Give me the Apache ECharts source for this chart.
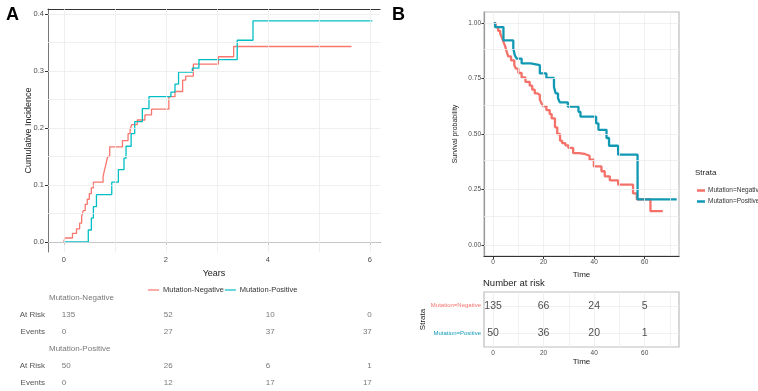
<!DOCTYPE html>
<html>
<head>
<meta charset="utf-8">
<script src="https://cdn.jsdelivr.net/npm/echarts@6/dist/echarts.min.js"></script>
<style>
html, body { margin: 0; padding: 0; background: #fff; }
#chart { width: 758px; height: 391px; }
</style>
</head>
<body>
<div id="chart"></div>
<script>
// ---- panel A: cumulative incidence, [years, value]
var aNegCurve = [[0, 0], [0.02, 0.007], [0.17, 0.015], [0.25, 0.023], [0.31, 0.033], [0.35, 0.045],
    [0.38, 0.055], [0.42, 0.066], [0.46, 0.075], [0.50, 0.085], [0.54, 0.095], [0.58, 0.105],
    [0.77, 0.115], [0.80, 0.127], [0.83, 0.138], [0.86, 0.150], [0.90, 0.167], [1.15, 0.178],
    [1.26, 0.190], [1.30, 0.197], [1.33, 0.206], [1.44, 0.214], [1.59, 0.223], [1.72, 0.233],
    [2.06, 0.255], [2.18, 0.264], [2.33, 0.284], [2.39, 0.291], [2.54, 0.312], [3.03, 0.325],
    [3.33, 0.343], [5.64, 0.343]]
var aPosCurve = [[0, 0], [0.48, 0.021], [0.54, 0.042], [0.58, 0.062], [0.64, 0.083], [0.94, 0.105],
    [1.07, 0.127], [1.18, 0.147], [1.22, 0.168], [1.32, 0.190], [1.39, 0.211], [1.54, 0.234],
    [1.67, 0.255], [2.10, 0.263], [2.18, 0.277], [2.25, 0.298], [2.52, 0.305], [2.65, 0.320],
    [3.40, 0.354], [3.71, 0.388], [6.05, 0.388]]
var aTimes = [0, 2, 4, 6]
var aYTicks = [0, 0.1, 0.2, 0.3, 0.4]
var aNegRisk = [135, 52, 10, 0]
var aNegEvents = [0, 27, 37, 37]
var aPosRisk = [50, 26, 6, 1]
var aPosEvents = [0, 12, 17, 17]
var aRowKeys = ['negHead', 'negRisk', 'negEvents', 'posHead', 'posRisk', 'posEvents']
var aRowLabels = ['', 'At Risk', 'Events', '', 'At Risk', 'Events']
var aNames = ['Mutation-Negative', 'Mutation-Positive']

// ---- panel B: survival probability, [time, value]
var bNegCurve = [[0, 1], [1.0, 0.982], [2.0, 0.965], [2.8, 0.953], [3.5, 0.935], [4.1, 0.915],
    [4.8, 0.895], [5.4, 0.870], [6.0, 0.850], [7.1, 0.832], [8.4, 0.810], [9.0, 0.795],
    [10.0, 0.775], [11.3, 0.755], [12.8, 0.735], [14.5, 0.718], [15.5, 0.700], [16.5, 0.683],
    [17.6, 0.676], [18.5, 0.655], [19.2, 0.638], [19.8, 0.625], [21.1, 0.608], [22.4, 0.590],
    [23.2, 0.570], [24.5, 0.530], [25.4, 0.500], [26.5, 0.470], [27.3, 0.459], [28.6, 0.449],
    [29.8, 0.437], [31.7, 0.414], [34.0, 0.410], [36.3, 0.402], [38.2, 0.384], [39.9, 0.354],
    [42.9, 0.332], [44.2, 0.309], [46.2, 0.291], [49.5, 0.272], [55.4, 0.232], [56.9, 0.205],
    [62.3, 0.152], [67.2, 0.152]]
var bPosCurve = [[0, 1], [0.8, 0.982], [4.1, 0.922], [8.0, 0.885], [8.6, 0.855], [9.3, 0.840],
    [11.3, 0.818], [14.9, 0.810], [18.5, 0.773], [21.1, 0.753], [24.1, 0.712], [24.8, 0.683],
    [25.7, 0.661], [26.4, 0.643], [29.6, 0.623], [33.8, 0.600], [34.6, 0.578], [40.8, 0.548],
    [41.7, 0.519], [44.9, 0.482], [45.9, 0.447], [49.5, 0.407], [57.2, 0.205], [72.7, 0.205]]
var bTimes = [0, 20, 40, 60]
var bYTicks = [0, 0.25, 0.5, 0.75, 1]
var bNegRisk = [135, 66, 24, 5]
var bPosRisk = [50, 36, 20, 1]
var bNames = ['Mutation=Negative', 'Mutation=Positive']

var red = '#F8766D'
var teal = '#00BFC4'
var bRed = '#F4716A'
var bTeal = '#1199B4'
var font = 'Liberation Sans, Arial, sans-serif'

// 背景网格线
function gridLines (xs, ys, color) {
    var d = []
    xs.forEach(function (v) { d.push({ xAxis: v }) })
    ys.forEach(function (v) { d.push({ yAxis: v }) })
    return {
        silent: true,
        symbol: ['none', 'none'],
        label: { show: false },
        lineStyle: { color: color, type: 'solid', width: 0.8 },
        emphasis: { disabled: true },
        data: d
    }
}

// 风险表 (A)
var aTableData = []
var aRows = { negRisk: aNegRisk, negEvents: aNegEvents, posRisk: aPosRisk, posEvents: aPosEvents }
Object.keys(aRows).forEach(function (key) {
    aRows[key].forEach(function (v, i) {
        var last = i === aTimes.length - 1
        aTableData.push({
            value: [aTimes[i], key, String(v)],
            label: { position: last ? 'left' : 'right', distance: -2 }
        })
    })
})
aTableData.push({ value: [-0.31, 'negHead', aNames[0]], label: { position: 'right', distance: 1 } })
aTableData.push({ value: [-0.31, 'posHead', aNames[1]], label: { position: 'right', distance: 1 } })

var bTableData = []
bNegRisk.forEach(function (v, i) { bTableData.push([bTimes[i], bNames[0], v]) })
bPosRisk.forEach(function (v, i) { bTableData.push([bTimes[i], bNames[1], v]) })

var axisLabelA = { fontSize: 7.5, color: '#4d4d4d', fontFamily: font }
var axisLabelB = { fontSize: 6.5, color: '#4d4d4d', fontFamily: font }
var bigTitle = { fontSize: 18, fontWeight: 'bold', color: '#000', fontFamily: font }

var myChart = echarts.init(document.getElementById('chart'))
myChart.setOption({
    animation: false,
    textStyle: { fontFamily: font },
    title: [
        { text: 'A', left: 1, top: 1, textStyle: bigTitle },
        { text: 'B', left: 387, top: 1, textStyle: bigTitle },
        { text: 'Number at risk', left: 478, top: 273, textStyle: { fontSize: 9.5, fontWeight: 'normal', color: '#222', fontFamily: font } },
        { text: 'Strata', left: 690, top: 164, textStyle: { fontSize: 8, fontWeight: 'normal', color: '#222', fontFamily: font } }
    ],
    legend: [
        {
            data: aNames,
            left: 143,
            top: 281,
            icon: 'rect',
            itemWidth: 11,
            itemHeight: 1.2,
            itemGap: 1,
            textStyle: { fontSize: 7.5, color: '#333', padding: [0, 0, 0, -1] }
        },
        {
            data: bNames,
            orient: 'vertical',
            left: 692,
            top: 182,
            icon: 'rect',
            itemWidth: 8,
            itemHeight: 2.5,
            itemGap: 4,
            textStyle: { fontSize: 6.5, color: '#333', padding: [0, 0, 0, -2] }
        }
    ],
    grid: [
        { left: 48, top: 9, width: 332, height: 243 },
        { left: 48, top: 289, width: 332, height: 105.6 },
        { left: 484, top: 12, width: 195, height: 244, show: true, borderColor: '#bdbdbd', borderWidth: 1.2 },
        { left: 484, top: 292, width: 195, height: 55, show: true, borderColor: '#bdbdbd', borderWidth: 1.2 }
    ],
    xAxis: [
        {
            gridIndex: 0, type: 'value', min: -0.31, max: 6.2,
            axisLine: { lineStyle: { color: '#333', width: 1.2 } },
            axisTick: { customValues: aTimes, length: 3, lineStyle: { color: '#333' } },
            axisLabel: Object.assign({ customValues: aTimes, margin: 4 }, axisLabelA),
            splitLine: { show: false },
            name: 'Years', nameLocation: 'middle', nameGap: 12,
            nameTextStyle: { fontSize: 9, color: '#222' }
        },
        {
            gridIndex: 0, type: 'value', min: -0.31, max: 6.2, position: 'top',
            axisLine: { show: true, onZero: false, lineStyle: { color: '#333', width: 1.2 } },
            axisTick: { show: false }, axisLabel: { show: false }, splitLine: { show: false }
        },
        { gridIndex: 1, type: 'value', min: -0.31, max: 6.2, show: false },
        {
            gridIndex: 2, type: 'value', min: -3.6, max: 73.6,
            axisLine: { onZero: false, lineStyle: { color: '#333', width: 1.2 } },
            axisTick: { customValues: bTimes, length: 3, lineStyle: { color: '#333' } },
            axisLabel: Object.assign({ customValues: bTimes, margin: 3 }, axisLabelB),
            splitLine: { show: false },
            name: 'Time', nameLocation: 'middle', nameGap: 9,
            nameTextStyle: { fontSize: 8, color: '#222' }
        },
        {
            gridIndex: 3, type: 'value', min: -3.6, max: 73.6,
            axisLine: { onZero: false, lineStyle: { color: '#333', width: 1.2 } },
            axisTick: { customValues: bTimes, length: 3, lineStyle: { color: '#333' } },
            axisLabel: Object.assign({ customValues: bTimes, margin: 3 }, axisLabelB),
            splitLine: { show: false },
            name: 'Time', nameLocation: 'middle', nameGap: 9,
            nameTextStyle: { fontSize: 8, color: '#222' }
        }
    ],
    yAxis: [
        {
            gridIndex: 0, type: 'value', min: -0.0176, max: 0.4088,
            axisLine: { show: true, onZero: false, lineStyle: { color: '#777', width: 1 } },
            axisTick: { show: true, customValues: aYTicks, length: 3, lineStyle: { color: '#333' } },
            axisLabel: Object.assign({
                customValues: aYTicks, margin: 4,
                formatter: function (v) { return v.toFixed(1) }
            }, axisLabelA),
            splitLine: { show: false },
            name: 'Cumulative Incidence', nameLocation: 'middle', nameGap: 15, nameRotate: 90,
            nameMoveOverlap: false,
            nameTextStyle: { fontSize: 9, color: '#222' }
        },
        {
            gridIndex: 1, type: 'category', inverse: true, data: aRowKeys,
            axisLine: { show: false }, axisTick: { show: false }, splitLine: { show: false },
            axisLabel: {
                margin: 3, fontSize: 8, color: '#555',
                formatter: function (v, i) { return aRowLabels[i] }
            }
        },
        {
            gridIndex: 2, type: 'value', min: -0.05, max: 1.05,
            axisLine: { show: true, onZero: false, lineStyle: { color: '#999', width: 1.2 } },
            axisTick: { show: true, customValues: bYTicks, length: 2.5, lineStyle: { color: '#333' } },
            axisLabel: Object.assign({
                customValues: bYTicks, margin: 3,
                formatter: function (v) { return v.toFixed(2) }
            }, axisLabelB),
            splitLine: { show: false },
            name: 'Survival probability', nameLocation: 'middle', nameGap: 25, nameRotate: 90,
            nameTextStyle: { fontSize: 7, color: '#222' }
        },
        {
            gridIndex: 3, type: 'category', inverse: true, data: bNames,
            axisLine: { show: false },
            axisTick: { show: true, length: 2.5, alignWithLabel: true, lineStyle: { color: '#333' } },
            splitLine: { show: false },
            axisLabel: {
                margin: 3, fontSize: 6,
                color: function (v) { return v === bNames[0] ? bRed : bTeal }
            },
            name: 'Strata', nameLocation: 'middle', nameGap: 50, nameRotate: 90,
            nameTextStyle: { fontSize: 8, color: '#222' }
        }
    ],
    series: [
        {
            name: aNames[0], type: 'line', step: 'end', xAxisIndex: 0, yAxisIndex: 0,
            showSymbol: false, symbol: 'none', data: aNegCurve,
            lineStyle: { color: red, width: 1.3 }, itemStyle: { color: red },
            markLine: gridLines([0, 1, 2, 3, 4, 5, 6], [0, 0.05, 0.1, 0.15, 0.2, 0.25, 0.3, 0.35, 0.4], '#ebebeb'),
            z: 3
        },
        {
            name: aNames[1], type: 'line', step: 'end', xAxisIndex: 0, yAxisIndex: 0,
            showSymbol: false, symbol: 'none', data: aPosCurve,
            lineStyle: { color: teal, width: 1.3 }, itemStyle: { color: teal }, z: 3
        },
        {
            type: 'scatter', xAxisIndex: 2, yAxisIndex: 1, symbolSize: 0, silent: true,
            data: aTableData,
            label: {
                show: true, fontSize: 8, color: '#555',
                formatter: function (p) { return p.value[2] }
            }
        },
        {
            name: bNames[0], type: 'line', step: 'end', xAxisIndex: 3, yAxisIndex: 2,
            showSymbol: false, symbol: 'none', data: bNegCurve,
            lineStyle: { color: bRed, width: 2.3 }, itemStyle: { color: bRed },
            markLine: gridLines([0, 10, 20, 30, 40, 50, 60, 70], [0, 0.125, 0.25, 0.375, 0.5, 0.625, 0.75, 0.875, 1], '#ececec'),
            z: 3
        },
        {
            name: bNames[1], type: 'line', step: 'end', xAxisIndex: 3, yAxisIndex: 2,
            showSymbol: false, symbol: 'none', data: bPosCurve,
            lineStyle: { color: bTeal, width: 2.3 }, itemStyle: { color: bTeal }, z: 3
        },
        {
            // 表格背景网格
            type: 'scatter', xAxisIndex: 4, yAxisIndex: 3, symbolSize: 0, silent: true, z: 1,
            data: bTableData,
            markLine: gridLines([0, 10, 20, 30, 40, 50, 60, 70], bNames, '#ececec')
        },
        {
            type: 'scatter', xAxisIndex: 4, yAxisIndex: 3, symbolSize: 0, silent: true, z: 5,
            data: bTableData,
            label: {
                show: true, position: 'inside', fontSize: 10.5, color: '#222',
                formatter: function (p) { return p.value[2] }
            }
        }
    ]
})
</script>
</body>
</html>
